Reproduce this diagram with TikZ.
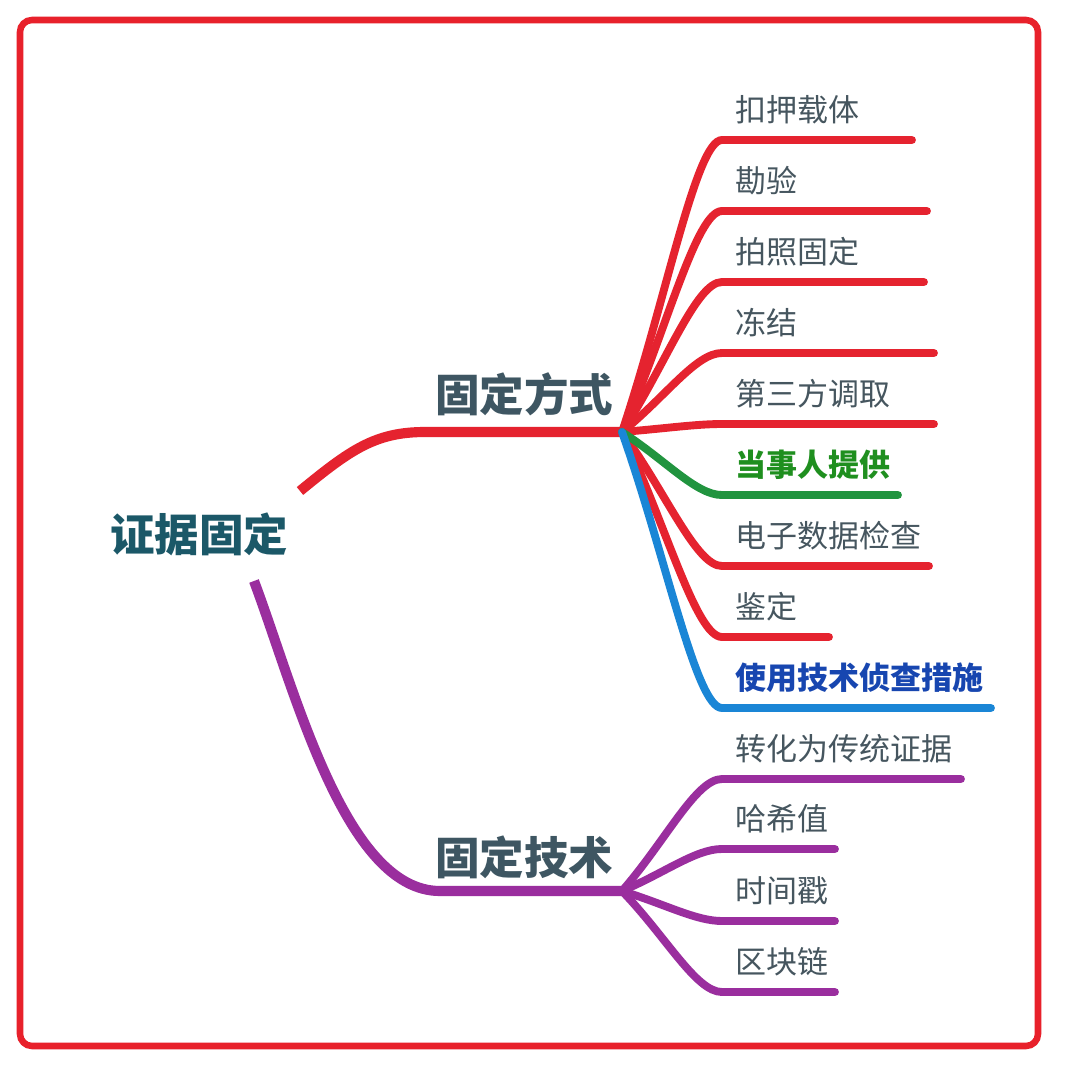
\documentclass[tikz,border=0pt]{standalone}
\usepackage{fontspec}
\usetikzlibrary{calc}
\newfontfamily\cjk{Noto Sans CJK SC}
\definecolor{framered}{HTML}{E8212B}
\definecolor{branchred}{HTML}{E5232F}
\definecolor{branchpurple}{HTML}{9A2E9E}
\definecolor{branchgreen}{HTML}{21943F}
\definecolor{branchblue}{HTML}{1A86D6}
\definecolor{leafgray}{HTML}{46565F}
\definecolor{maingray}{HTML}{3E5662}
\definecolor{roottext}{HTML}{1B5868}
\definecolor{greentext}{HTML}{1F8F1F}
\definecolor{bluetext}{HTML}{1746B0}
\begin{document}
\begin{tikzpicture}[x=0.75pt,y=-0.75pt,
  leaf/.style={inner sep=0pt, anchor=base west,
    font=\cjk\fontsize{23.25}{28}\selectfont, text=leafgray},
  boldleaf/.style={leaf, font=\cjk\bfseries\fontsize{23.25}{28}\selectfont},
  greenleaf/.style={boldleaf, text=greentext},
  blueleaf/.style={boldleaf, text=bluetext},
  mainlbl/.style={inner sep=0pt, anchor=base west,
    font=\cjk\bfseries\fontsize{33.4}{40}\selectfont, text=maingray},
  rootlbl/.style={inner sep=0pt, anchor=base west,
    font=\cjk\bfseries\fontsize{33.4}{40}\selectfont, text=roottext},
  mainline/.style={line width=7.6pt},
  leafline/.style={line width=5.9pt, line cap=round}]
\useasboundingbox (0,0) rectangle (1080,1090);
\fill[white] (0,0) rectangle (1080,1090);

% outer frame
\draw[framered, line width=4.9pt, rounded corners=9pt] (20,20) rectangle (1038,1046);

% root and main topics
\node[rootlbl] (root) at (110,551) {证据固定};
\node[mainlbl] (fangshi) at (435,411) {固定方式};
\node[mainlbl] (jishu) at (435,874) {固定技术};

\coordinate (rA) at (300,491);
\coordinate (rB) at (254,581);
\coordinate (hubA) at (622,432);
\coordinate (hubB) at (622,891);

% main branches
\draw[branchred, mainline] (rA) .. controls (350,450) and (375,432) .. (425,432) -- (hubA);
\draw[branchpurple, mainline] (rB) .. controls (295,690) and (345,891) .. (440,891) -- (hubB);

% leaf branches: name / hub / line y / end x / colour / label style / text
\foreach \n/\h/\y/\xe/\col/\sty/\txt in {
  a1/hubA/140/912/branchred/leaf/扣押载体,
  a2/hubA/211/927/branchred/leaf/勘验,
  a3/hubA/282/924/branchred/leaf/拍照固定,
  a4/hubA/353/934/branchred/leaf/冻结,
  a5/hubA/424/934/branchred/leaf/第三方调取,
  a7/hubA/566/929/branchred/leaf/电子数据检查,
  a8/hubA/637/829/branchred/leaf/鉴定,
  a6/hubA/495/898/branchgreen/greenleaf/当事人提供,
  a9/hubA/708/991/branchblue/blueleaf/使用技术侦查措施,
  b1/hubB/779/961/branchpurple/leaf/转化为传统证据,
  b2/hubB/849/835/branchpurple/leaf/哈希值,
  b3/hubB/921/835/branchpurple/leaf/时间戳,
  b4/hubB/992/835/branchpurple/leaf/区块链}{
  \coordinate (c\n) at (722,\y);
  \coordinate (e\n) at (\xe,\y);
  \node[\sty] (t\n) at (735.5,\y-19) {\txt};
  \draw[\col, leafline]
    (\h) .. controls ($(\h)!0.45!(\h|-c\n)+(44,0)$) and ($(c\n)+(-26,0)$) .. (c\n) -- (e\n);
}
\end{tikzpicture}
\end{document}
